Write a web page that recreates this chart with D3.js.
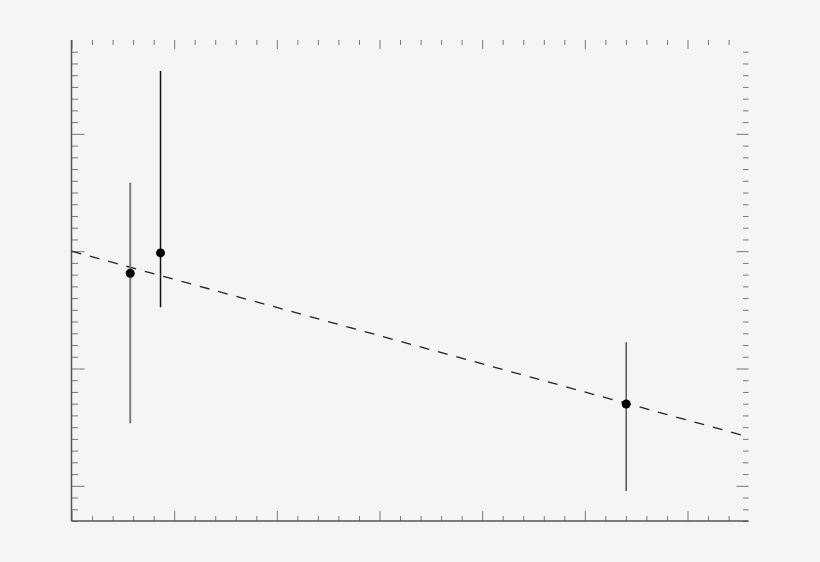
<!DOCTYPE html>
<html>
<head>
<meta charset="utf-8">
<script src="https://cdn.jsdelivr.net/npm/d3@7"></script>
<style>
  html, body { margin: 0; padding: 0; background: #f5f5f5; }
  svg { display: block; }
</style>
</head>
<body>
<svg id="chart" width="820" height="562"></svg>
<script>
// ---- data ----
const pointX   = [0.572, 0.867, 5.403];
const pointY   = [1.812, 1.985, 0.697];
const errLow   = [0.533, 1.522, -0.044];
const errHigh  = [2.584, 3.536, 1.223];
const errColor = ["#7a7a7a", "#111111", "#555555"];
const fitX     = [0, 6.59];
const fitY     = [2.0, 0.418];
const xTickValues = d3.range(0, 6.45, 0.2);
const yTickValues = d3.range(-0.3, 3.75, 0.1);

// ---- layout ----
const W = 820, H = 562;
const mLeft = 71.5, mRight = 748.5, mTop = 40, mBottom = 521;

const svg = d3.select("#chart");
svg.append("rect").attr("width", W).attr("height", H).attr("fill", "#f5f5f5");

const x = d3.scaleLinear().domain([0, 6.594]).range([mLeft, mRight]);
const y = d3.scaleLinear().domain([-0.3, 3.8]).range([mBottom, mTop]);

const isMajor = v => Math.abs(v - Math.round(v)) < 1e-6;

function styleAxis(g) {
  g.select(".domain").remove();
  g.selectAll(".tick text").remove();
  g.selectAll(".tick line").attr("stroke", "#777").attr("stroke-width", 1);
}

// bottom axis (ticks inward)
svg.append("g").attr("transform", `translate(0,${mBottom})`)
  .call(d3.axisBottom(x).tickValues(xTickValues).tickSizeOuter(0).tickSizeInner(0))
  .call(styleAxis)
  .call(g => g.selectAll(".tick line").attr("y2", d => isMajor(d) ? -10 : -5));

// top axis
svg.append("g").attr("transform", `translate(0,${mTop})`)
  .call(d3.axisTop(x).tickValues(xTickValues).tickSizeOuter(0).tickSizeInner(0))
  .call(styleAxis)
  .call(g => g.selectAll(".tick line").attr("y2", d => isMajor(d) ? 9 : 5));

// left axis
svg.append("g").attr("transform", `translate(${mLeft},0)`)
  .call(d3.axisLeft(y).tickValues(yTickValues).tickSizeOuter(0).tickSizeInner(0))
  .call(styleAxis)
  .call(g => g.selectAll(".tick line").attr("x2", d => isMajor(d) ? 13 : 6.5));

// right axis
svg.append("g").attr("transform", `translate(${mRight},0)`)
  .call(d3.axisRight(y).tickValues(yTickValues).tickSizeOuter(0).tickSizeInner(0))
  .call(styleAxis)
  .call(g => g.selectAll(".tick line").attr("x2", d => isMajor(d) ? -12 : -5.5));

// axis lines (left and bottom)
svg.append("line").attr("x1", mLeft).attr("x2", mLeft).attr("y1", mTop).attr("y2", mBottom)
  .attr("stroke", "#555").attr("stroke-width", 1.5);
svg.append("line").attr("x1", mLeft).attr("x2", mRight).attr("y1", mBottom).attr("y2", mBottom)
  .attr("stroke", "#555").attr("stroke-width", 1.5);

// fit line (dashed)
const fitData = fitX.map((v, i) => [v, fitY[i]]);
svg.append("path")
  .datum(fitData)
  .attr("d", d3.line().x(d => x(d[0])).y(d => y(d[1])))
  .attr("fill", "none")
  .attr("stroke", "#222")
  .attr("stroke-width", 1.3)
  .attr("stroke-dasharray", "10,9");

// error bars
const pts = pointX.map((v, i) => ({x: v, y: pointY[i], lo: errLow[i], hi: errHigh[i], c: errColor[i]}));
svg.append("g").selectAll("line").data(pts).join("line")
  .attr("x1", d => x(d.x)).attr("x2", d => x(d.x))
  .attr("y1", d => y(d.lo)).attr("y2", d => y(d.hi))
  .attr("stroke", d => d.c)
  .attr("stroke-width", (d, i) => i === 0 ? 2 : 1.5);

// points
svg.append("g").selectAll("circle").data(pts).join("circle")
  .attr("cx", d => x(d.x)).attr("cy", d => y(d.y))
  .attr("r", 4.5).attr("fill", "#000");
</script>
</body>
</html>
